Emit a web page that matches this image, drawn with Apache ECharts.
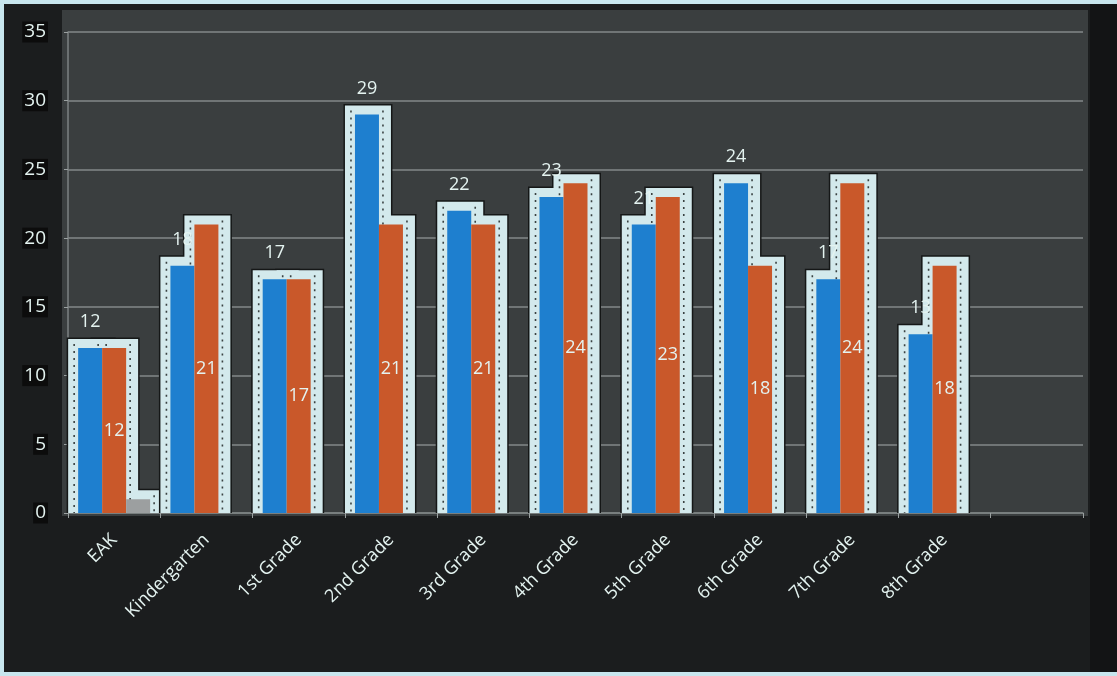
<!DOCTYPE html>
<html>
<head>
<meta charset="utf-8">
<script src="https://cdn.jsdelivr.net/npm/echarts@6/dist/echarts.min.js"></script>
<style>
html,body{margin:0;padding:0;width:1117px;height:676px;background:#c8e6ee;overflow:hidden;}
#c{position:absolute;left:4px;top:4px;width:1113px;height:668px;background:#1b1d1e;}
</style>
</head>
<body>
<div id="c"></div>
<script>
var categories = ['EAK','Kindergarten','1st Grade','2nd Grade','3rd Grade','4th Grade','5th Grade','6th Grade','7th Grade','8th Grade'];
var blueValues = [12,18,17,29,22,23,21,24,17,13];
var orangeValues = [12,21,17,21,21,24,23,18,24,18];
var greyValues = [1,null,null,null,null,null,null,null,null,null];
var yTicks = [0,5,10,15,20,25,30,35];

var xData = categories.concat(['']);
var gapPct = 0.22;

var outlineData = categories.map(function(c,i){ return [i, blueValues[i], orangeValues[i], greyValues[i] == null ? 0 : greyValues[i]]; });

function renderOutline(params, api){
  var idx = api.value(0);
  var band = api.size([1,0])[0];
  var groupW = band*(1-gapPct);
  var bw = groupW/3;
  var center = api.coord([idx,0]);
  var base = center[1];
  var x0 = center[0]-groupW/2;
  var padL = 10, padR = 12, padT = 9;
  var shadows=[], fills=[], dots=[];
  for(var k=0;k<3;k++){
    var v = api.value(k+1);
    if(!v) continue;
    var top = api.coord([idx,v])[1];
    var bx = x0+k*bw;
    shadows.push({type:'rect',shape:{x:bx-padL-1.5,y:top-padT-1.5,width:bw+padL+padR+3,height:base-top+padT+1.5},style:{fill:'#151717'}});
    fills.push({type:'rect',shape:{x:bx-padL,y:top-padT,width:bw+padL+padR,height:base-top+padT},style:{fill:'#d3e9ec'}});
    dots.push({type:'line',shape:{x1:bx-4,y1:top-4,x2:bx-4,y2:base},style:{stroke:'#3a4242',lineWidth:1.6,lineDash:[2,5]}});
    dots.push({type:'line',shape:{x1:bx+bw+4,y1:top-4,x2:bx+bw+4,y2:base},style:{stroke:'#3a4242',lineWidth:1.6,lineDash:[2,5]}});
  }
  return {type:'group',children:shadows.concat(fills).concat(dots)};
}

var chart = echarts.init(document.getElementById('c'));
var labelColor = '#e4f3f0';
chart.setOption({
  animation:false,
  backgroundColor:'#1b1d1e',
  graphic:[
    {type:'rect',z:-10,silent:true,shape:{x:1086,y:0,width:30,height:668},style:{fill:'#131415'}},
    {type:'rect',z:-10,silent:true,shape:{x:58,y:6,width:1026,height:506},style:{fill:'#3a3e3f'}}
  ],
  grid:{left:64,right:34,top:28,bottom:159},
  xAxis:{
    type:'category',
    data:xData,
    axisLine:{show:true,lineStyle:{color:'#7c8283',width:1.5}},
    axisTick:{show:true,length:5,lineStyle:{color:'#9aa0a0'}},
    axisLabel:{rotate:45,color:labelColor,fontSize:18,fontFamily:'Open Sans',margin:24,interval:0}
  },
  yAxis:{
    type:'value',min:yTicks[0],max:yTicks[yTicks.length-1],interval:5,
    axisLine:{show:true,lineStyle:{color:'#7c8283',width:1.5}},
    axisTick:{show:true,length:4,lineStyle:{color:'#9aa0a0'}},
    splitLine:{show:true,lineStyle:{color:'#707576',width:2}},
    axisLabel:{color:labelColor,fontSize:19,fontFamily:'Open Sans',margin:20,backgroundColor:'#0c0c0c',padding:[1,2]}
  },
  series:[
    {type:'custom',z:1,renderItem:renderOutline,data:outlineData,encode:{x:0,y:[1,2,3]},silent:true},
    {type:'bar',z:3,data:blueValues,barGap:'0%',barCategoryGap:'22%',
      itemStyle:{color:'#1e7fcf'},
      label:{show:true,position:'top',distance:17,color:labelColor,fontSize:18,fontFamily:'Open Sans'}},
    {type:'bar',z:3,data:orangeValues,barGap:'0%',barCategoryGap:'22%',
      itemStyle:{color:'#c9582a'},
      label:{show:true,position:'inside',color:labelColor,fontSize:18,fontFamily:'Open Sans'}},
    {type:'bar',z:3,data:greyValues,barGap:'0%',barCategoryGap:'22%',
      itemStyle:{color:'#9c9fa0'}}
  ]
});
</script>
</body>
</html>
